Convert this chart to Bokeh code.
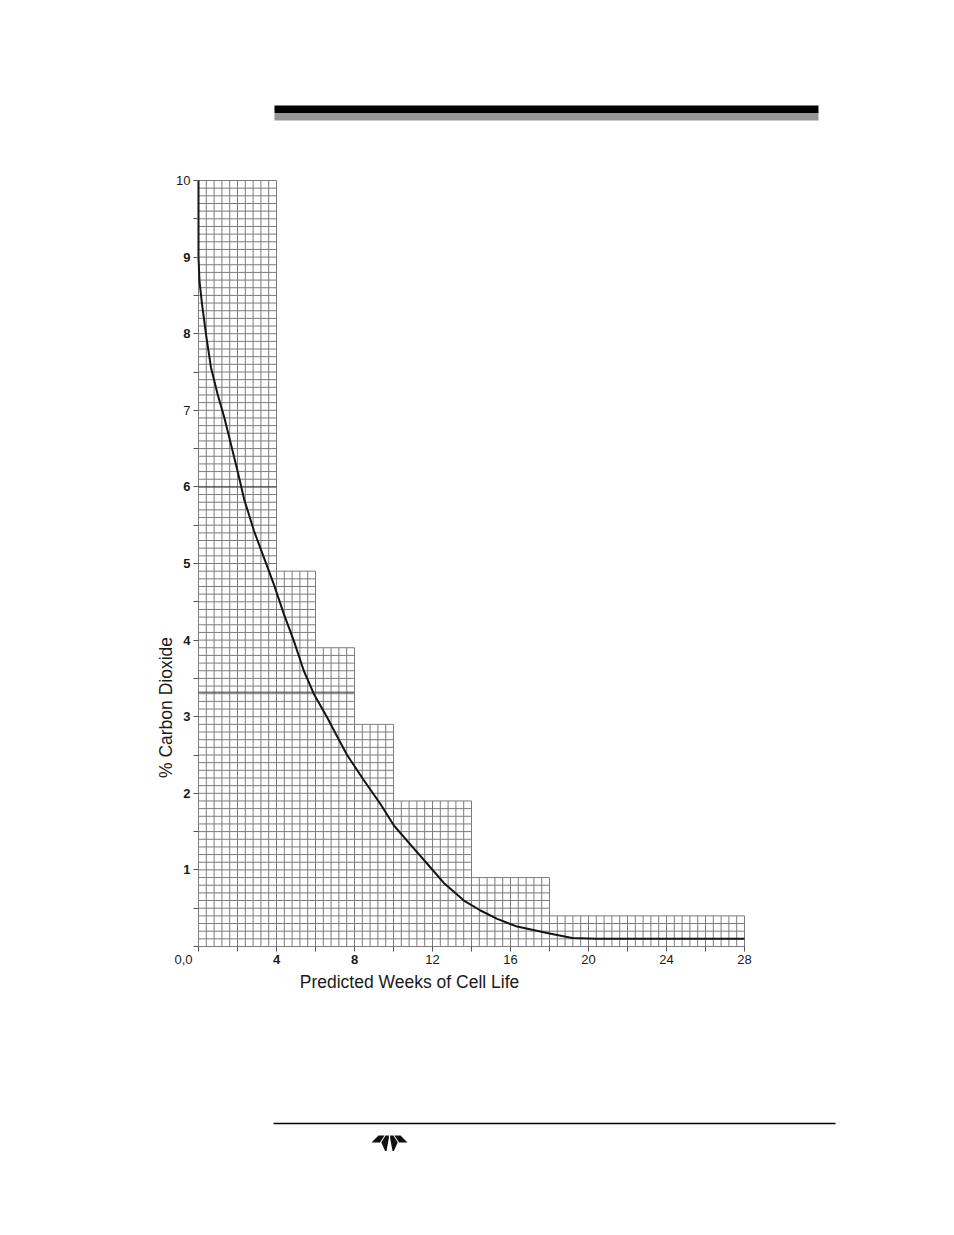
import math
from bokeh.plotting import figure
from bokeh.models import (Range1d, FixedTicker, ColumnDataSource, LabelSet, Label,
                          CustomJSTickFormatter, LinearAxis)
from bokeh.core.properties import value
from bokeh.embed import file_html
from bokeh.resources import INLINE

# ---------------- data ----------------
weeks = [0, 0.0, 0.05, 0.18, 0.38, 0.64, 0.98, 1.32, 1.66, 2.0, 2.34, 2.84, 3.35, 3.86,
         4.38, 4.89, 5.40, 5.91, 6.60, 7.20, 7.62, 8.48, 9.33, 10.02, 10.87, 11.73,
         12.58, 13.61, 14.46, 15.32, 16.34, 18.0, 19.16, 20.4, 28]
co2_pct = [10, 9.0, 8.69, 8.39, 8.0, 7.56, 7.21, 6.91, 6.56, 6.21, 5.84, 5.43, 5.08, 4.73,
           4.34, 3.99, 3.60, 3.30, 2.99, 2.70, 2.50, 2.17, 1.86, 1.58, 1.33, 1.08,
           0.83, 0.60, 0.47, 0.36, 0.26, 0.17, 0.11, 0.10, 0.10]

# stepped graph-paper region
step_left = [0, 4, 6, 8, 10, 14, 18]
step_right = [4, 6, 8, 10, 14, 18, 28]
step_top = [10, 4.9, 3.9, 2.9, 1.9, 0.9, 0.4]
grid_dx = 0.4
grid_dy = 0.1

# darker reading lines on the paper
ref_levels = [6.0, 3.32]

x_tick_values = [4, 8, 12, 16, 20, 24, 28]
x_tick_labels = ["4", "8", "12", "16", "20", "24", "28"]
x_tick_bold = [True, True, False, False, False, False, False]

y_tick_values = [1, 2, 3, 4, 5, 6, 7, 8, 9, 10]
y_tick_labels = ["1", "2", "3", "4", "5", "6", "7", "8", "9", "10"]
y_tick_bold = [True, True, True, True, True, True, False, True, True, False]

x_tick_marks = [0, 2, 4, 6, 8, 10, 12, 14, 16, 18, 20, 22, 24, 26, 28]
y_tick_marks = [0, 0.5, 1, 1.5, 2, 2.5, 3, 3.5, 4, 4.5, 5, 5.5, 6, 6.5, 7, 7.5,
                8, 8.5, 9, 9.5, 10]

origin_label = "0,0"
x_title = "Predicted Weeks of Cell Life"
y_title = "% Carbon Dioxide"

FONT_NAME = "Liberation Sans"
FONT = value(FONT_NAME)
TXT = "#1a1a1a"

# ---------------- derived grid ----------------
def top_at(x):
    h = 0.0
    for l, r, t in zip(step_left, step_right, step_top):
        if l - 1e-9 <= x <= r + 1e-9:
            h = max(h, t)
    return h

def right_at(y):
    e = 0.0
    for l, r, t in zip(step_left, step_right, step_top):
        if t >= y - 1e-9:
            e = max(e, r)
    return e

n_v = int(round(step_right[-1] / grid_dx))
vx = [round(i * grid_dx, 6) for i in range(n_v + 1)]
vtop = [top_at(x) for x in vx]
n_h = int(round(max(step_top) / grid_dy))
hy = [round(j * grid_dy, 6) for j in range(n_h + 1)]
hright = [right_at(y) for y in hy]
ref_ends = [right_at(y) for y in ref_levels]

# ---------------- page / scale layout ----------------
W, H = 938, 1219
X0_PX, PX_WK = 198.0, 19.5      # page x of week 0, pixels per week
Y0_PX, PX_PCT = 946.0, 76.6     # page y of 0 %, pixels per %
x_start = -X0_PX / PX_WK
x_end = x_start + W / PX_WK
y_start = -(H - Y0_PX) / PX_PCT
y_end = y_start + H / PX_PCT

p = figure(width=W, height=H, output_backend="svg", toolbar_location=None,
           x_range=Range1d(x_start, x_end), y_range=Range1d(y_start, y_end),
           x_axis_type=None, y_axis_type=None, min_border=0, title=None)
p.outline_line_color = None
p.xgrid.visible = False
p.ygrid.visible = False
p.extra_x_ranges = {"page": Range1d(0, W)}
p.extra_y_ranges = {"page": Range1d(H, 0)}

# ---------------- header / footer decorations ----------------
p.quad(left=274, right=818, top=105, bottom=112.5, color="#000000", line_color=None,
       x_range_name="page", y_range_name="page")
p.quad(left=274, right=818, top=112.5, bottom=120, color="#969696", line_color=None,
       x_range_name="page", y_range_name="page")
p.segment(x0=[273], y0=[1123], x1=[835], y1=[1123], line_color="#000000", line_width=1.5,
          x_range_name="page", y_range_name="page")
lx, ly = 371, 1134
left_outer = [(0, 8), (7, 1), (13, 1), (8.5, 8)]
left_inner = [(14, 1), (17.4, 1), (17.4, 3.5), (15, 16.5), (13.6, 16.5), (9.8, 8)]
shapes = [left_outer, left_inner,
          [(36 - x, y) for x, y in left_outer], [(36 - x, y) for x, y in left_inner]]
p.patches(xs=[[lx + x for x, y in s] for s in shapes],
          ys=[[ly + y for x, y in s] for s in shapes],
          fill_color="#111111", line_color=None, x_range_name="page", y_range_name="page")

# ---------------- axes (ticks only) ----------------
empty = CustomJSTickFormatter(code="return ''")
xax = LinearAxis(fixed_location=0, ticker=FixedTicker(ticks=x_tick_marks, minor_ticks=[]),
                 formatter=empty)
yax = LinearAxis(fixed_location=0, ticker=FixedTicker(ticks=y_tick_marks, minor_ticks=[]),
                 formatter=empty)
for ax in (xax, yax):
    ax.axis_line_color = None
    ax.major_tick_line_color = "#555555"
    ax.major_tick_out = 5
    ax.major_tick_in = 0
    ax.minor_tick_line_color = None
    ax.major_label_text_font_size = "1px"
p.add_layout(xax, "below")
p.add_layout(yax, "left")

# ---------------- graph paper + curve ----------------
grid_col = "#7c7c7c"
p.segment(x0=vx, y0=[0] * len(vx), x1=vx, y1=vtop, line_color=grid_col, line_width=1)
p.segment(x0=[0] * len(hy), y0=hy, x1=hright, y1=hy, line_color=grid_col, line_width=1)
p.segment(x0=[0] * len(ref_levels), y0=ref_levels, x1=ref_ends, y1=ref_levels,
          line_color="#3a3a3a", line_width=1)

p.line(weeks, co2_pct, line_color="#151515", line_width=2, line_join="round")

# ---------------- texts ----------------
def add_ticklabels(vals, labels, bold, axis):
    for want in (True, False):
        sel = [i for i, b in enumerate(bold) if b == want]
        if not sel:
            continue
        if axis == "x":
            src = ColumnDataSource(dict(x=[vals[i] for i in sel], y=[0] * len(sel),
                                        t=[labels[i] for i in sel]))
            ls = LabelSet(x="x", y="y", text="t", source=src, y_offset=-13,
                          text_align="center", text_baseline="middle")
        else:
            src = ColumnDataSource(dict(x=[0] * len(sel), y=[vals[i] for i in sel],
                                        t=[labels[i] for i in sel]))
            ls = LabelSet(x="x", y="y", text="t", source=src, x_offset=-8,
                          text_align="right", text_baseline="middle")
        ls.text_font = FONT
        ls.text_font_size = "13px"
        ls.text_font_style = "bold" if want else "normal"
        ls.text_color = TXT
        p.add_layout(ls)

add_ticklabels(x_tick_values, x_tick_labels, x_tick_bold, "x")
add_ticklabels(y_tick_values, y_tick_labels, y_tick_bold, "y")

p.add_layout(Label(x=0, y=0, x_offset=-6, y_offset=-13, text=origin_label,
                   text_align="right", text_baseline="middle", text_font=FONT_NAME,
                   text_font_size="13px", text_color=TXT))
p.add_layout(Label(x=10.82, y=0, y_offset=-35, text=x_title, text_align="center",
                   text_baseline="middle", text_font=FONT_NAME, text_font_size="17.5px",
                   text_color=TXT))
p.add_layout(Label(x=0, y=3.12, x_offset=-33, text=y_title, angle=math.pi / 2,
                   text_align="center", text_baseline="middle", text_font=FONT_NAME,
                   text_font_size="17.5px", text_color=TXT))

open("out.html", "w").write(file_html(p, INLINE))
